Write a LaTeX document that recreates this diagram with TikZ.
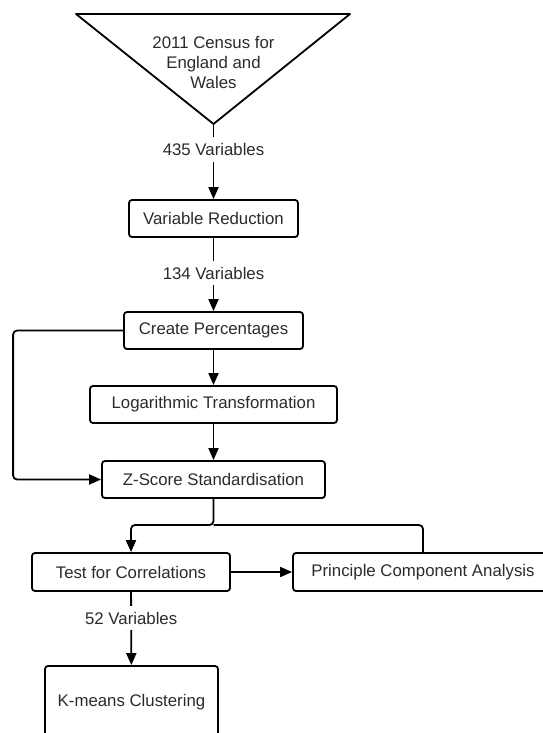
\documentclass[tikz,border=0pt]{standalone}
\usepackage{fontspec}
\setmainfont{Liberation Sans}
\usetikzlibrary{arrows.meta}
\definecolor{inkgray}{HTML}{2B2B2B}

\begin{document}
\begin{tikzpicture}[
  x=1pt, y=-1pt,
  every node/.style={font=\fontsize{16.8}{20}\selectfont, text=inkgray},
  box/.style={draw, line width=1.8pt, rounded corners=3pt, minimum height=37pt,
              align=center, inner sep=0pt},
  arrow/.style={-{Triangle[length=12pt,width=10pt]}, line width=1.8pt},
  link/.style={line width=1.8pt},
  lbl/.style={fill=white, inner xsep=2pt, inner ysep=6pt},
]
\useasboundingbox (0,0) rectangle (542,733);

% census source
\coordinate (tl)   at (76,14);
\coordinate (tr)   at (350,14);
\coordinate (apex) at (213.5,124);
\draw[link, line join=round] (tl) -- (tr) -- (apex) -- cycle;
\node[align=center] (census) at (213.5,63) {2011 Census for\\England and\\Wales};

\node[box, minimum width=169pt] (vr)  at (213.5,218.5) {Variable Reduction};
\node[box, minimum width=179pt] (cp)  at (213.5,330.5) {Create Percentages};
\node[box, minimum width=247pt] (log) at (213.5,404.5) {Logarithmic Transformation};
\node[box, minimum width=223pt] (zs)  at (213.5,479.5) {Z-Score Standardisation};
\node[box, minimum width=198pt, minimum height=38pt] (tc)  at (131,572) {Test for Correlations};
\node[box, minimum width=260pt, minimum height=38pt] (pca) at (423,572) {Principle Component Analysis};
\node[box, minimum width=173pt, minimum height=72pt] (km)  at (131.5,702) {K-means Clustering};
\coordinate (split) at (213.5,525);

\draw[arrow] (apex) -- node[lbl, pos=0.34]{435 Variables} (vr);
\draw[arrow] (vr)   -- node[lbl, pos=0.48]{134 Variables} (cp);
\draw[arrow] (cp)   -- (log);
\draw[arrow] (log)  -- (zs);
\draw[arrow, rounded corners=4pt] (cp.west) -- ++(-110,0) |- (zs.west);
\draw[arrow, rounded corners=4pt] (zs.south) -- (split) -| (tc.north);
\draw[link, rounded corners=4pt] (split) -| (pca.north);
\draw[arrow] (tc) -- (pca);
\draw[arrow] (tc)   -- node[lbl, pos=0.36]{52 Variables} (km);
\end{tikzpicture}
\end{document}
